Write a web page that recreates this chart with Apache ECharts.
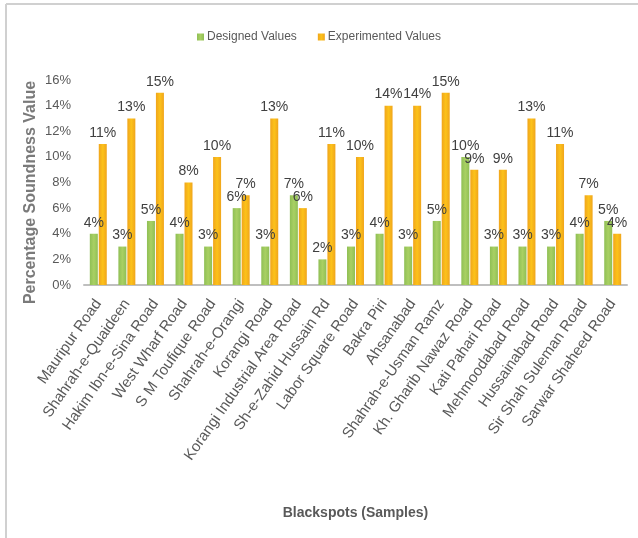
<!DOCTYPE html>
<html>
<head>
<meta charset="utf-8">
<script src="https://cdn.jsdelivr.net/npm/echarts@6/dist/echarts.min.js"></script>
<style>
  html, body { margin: 0; padding: 0; background: #fff; }
  #chart { width: 638px; height: 538px; }
</style>
</head>
<body>
<div id="chart"></div>
<script>
// Blackspot road segments
const categories = [
  'Mauripur Road', 'Shahrah-e-Quaideen', 'Hakim Ibn-e-Sina Road', 'West Wharf Road',
  'S M Toufique Road', 'Shahrah-e-Orangi', 'Korangi Road', 'Korangi Industrial Area Road',
  'Sh-e-Zahid Hussain Rd', 'Labor Square Road', 'Bakra Piri', 'Ahsanabad',
  'Shahrah-e-Usman Ramz', 'Kh. Gharib Nawaz Road', 'Kati Pahari Road', 'Mehmoodabad Road',
  'Hussainabad Road', 'Sir Shah Suleman Road', 'Sarwar Shaheed Road'
];
// Percentage soundness values (%)
const designedValues = [4, 3, 5, 4, 3, 6, 3, 7, 2, 3, 4, 3, 5, 10, 3, 3, 3, 4, 5];
const experimentedValues = [11, 13, 15, 8, 10, 7, 13, 6, 11, 10, 14, 14, 15, 9, 9, 13, 11, 7, 4];
const yTicks = { min: 0, max: 16, interval: 2 };

const FONT = '"Liberation Sans", Arial, sans-serif';
const TEXT = '#595959';

const chart = echarts.init(document.getElementById('chart'));

const barLabel = {
  show: true,
  position: 'top',
  distance: 4,
  formatter: '{c}%',
  fontFamily: FONT,
  fontSize: 14,
  color: '#404040'
};

chart.setOption({
  animation: false,
  backgroundColor: '#fff',
  legend: {
    top: 26,
    left: 'center',
    itemWidth: 7,
    itemHeight: 7,
    itemGap: 21,
    icon: 'rect',
    textStyle: { fontFamily: FONT, fontSize: 12, color: TEXT, padding: [0, 0, 0, -2] }
  },
  grid: { left: 84, right: 11, top: 80, bottom: 253, containLabel: false },
  xAxis: {
    type: 'category',
    data: categories,
    name: 'Blackspots (Samples)',
    nameLocation: 'middle',
    nameGap: 221,
    nameMoveOverlap: false,
    nameTextStyle: { fontFamily: FONT, fontSize: 14, fontWeight: 'bold', color: TEXT },
    axisLine: { lineStyle: { color: '#bfbfbf', width: 2 } },
    axisTick: { show: false },
    axisLabel: {
      interval: 0,
      rotate: 55,
      margin: 16,
      fontFamily: FONT,
      fontSize: 15,
      color: TEXT
    }
  },
  yAxis: {
    type: 'value',
    min: yTicks.min,
    max: yTicks.max,
    interval: yTicks.interval,
    name: 'Percentage Soundness Value',
    nameLocation: 'middle',
    nameGap: 45,
    nameMoveOverlap: false,
    nameTextStyle: { fontFamily: FONT, fontSize: 16, fontWeight: 'bold', color: '#7a7a7a', padding: [0, 20, 0, 0] },
    axisLine: { show: false },
    axisTick: { show: false },
    splitLine: { show: false },
    axisLabel: {
      formatter: '{value}%',
      margin: 13,
      fontFamily: FONT,
      fontSize: 13,
      color: TEXT
    }
  },
  series: [
    {
      name: 'Designed Values',
      type: 'bar',
      data: designedValues,
      barWidth: 8,
      barGap: '12%',
      itemStyle: {
        color: new echarts.graphic.LinearGradient(0, 0, 1, 0, [
          { offset: 0, color: '#8fbf55' },
          { offset: 0.5, color: '#a9d063' },
          { offset: 1, color: '#8fbf55' }
        ])
      },
      label: barLabel
    },
    {
      name: 'Experimented Values',
      type: 'bar',
      data: experimentedValues,
      barWidth: 8,
      itemStyle: {
        color: new echarts.graphic.LinearGradient(0, 0, 1, 0, [
          { offset: 0, color: '#f0a51c' },
          { offset: 0.5, color: '#fcc21a' },
          { offset: 1, color: '#f0a51c' }
        ])
      },
      label: barLabel
    }
  ],
  graphic: [
    { type: 'line', shape: { x1: 6, y1: 4, x2: 638, y2: 4 }, style: { stroke: '#d0d0d0', lineWidth: 2 } },
    { type: 'line', shape: { x1: 6, y1: 4, x2: 6, y2: 538 }, style: { stroke: '#d0d0d0', lineWidth: 2 } }
  ]
});
</script>
</body>
</html>
